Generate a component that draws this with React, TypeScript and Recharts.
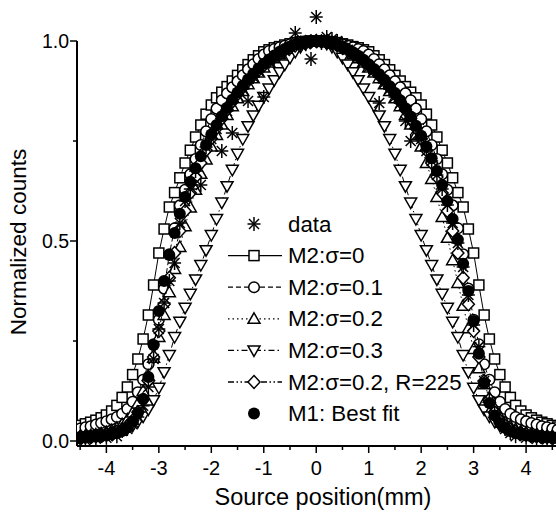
import { ScatterChart, Scatter, XAxis, YAxis, ReferenceLine } from 'recharts'

// source position (mm)
const xs = [
  -4.6, -4.5, -4.4, -4.3, -4.2, -4.1, -4.0, -3.9, -3.8, -3.7,
  -3.6, -3.5, -3.4, -3.3, -3.2, -3.1, -3.0, -2.9, -2.8, -2.7,
  -2.6, -2.5, -2.4, -2.3, -2.2, -2.1, -2.0, -1.9, -1.8, -1.7,
  -1.6, -1.5, -1.4, -1.3, -1.2, -1.1, -1.0, -0.9, -0.8, -0.7,
  -0.6, -0.5, -0.4, -0.3, -0.2, -0.1, 0.0, 0.1, 0.2, 0.3,
  0.4, 0.5, 0.6, 0.7, 0.8, 0.9, 1.0, 1.1, 1.2, 1.3,
  1.4, 1.5, 1.6, 1.7, 1.8, 1.9, 2.0, 2.1, 2.2, 2.3,
  2.4, 2.5, 2.6, 2.7, 2.8, 2.9, 3.0, 3.1, 3.2, 3.3,
  3.4, 3.5, 3.6, 3.7, 3.8, 3.9, 4.0, 4.1, 4.2, 4.3,
  4.4, 4.5, 4.6,
]

const measured = [
  0.004, 0.010, 0.002, 0.012, 0.006, 0.015, 0.008, 0.018, 0.012, 0.025,
  0.030, 0.042, 0.060, 0.088, 0.135, 0.205, 0.280, 0.345, 0.400, 0.445,
  0.545, 0.600, 0.630, 0.675, 0.640, 0.735, 0.755, 0.780, 0.725, 0.825,
  0.770, 0.865, 0.880, 0.850, 0.910, 0.925, 0.860, 0.948, 0.958, 0.968,
  0.975, 0.985, 1.020, 0.990, 0.992, 0.955, 1.060, 0.995, 1.010, 1.005,
  1.000, 0.988, 0.978, 0.968, 0.960, 0.948, 0.935, 0.925, 0.845, 0.895,
  0.880, 0.860, 0.845, 0.800, 0.750, 0.780, 0.755, 0.725, 0.700, 0.665,
  0.630, 0.590, 0.545, 0.495, 0.435, 0.365, 0.290, 0.236, 0.150, 0.100,
  0.070, 0.045, 0.030, 0.020, 0.012, 0.018, 0.008, 0.014, 0.005, 0.011,
  0.004, 0.009, 0.003,
]

const m2s0 = [
  0.035, 0.039, 0.043, 0.047, 0.052, 0.058, 0.065, 0.075, 0.089, 0.109,
  0.135, 0.166, 0.205, 0.255, 0.315, 0.390, 0.470, 0.530, 0.585, 0.621,
  0.658, 0.695, 0.727, 0.760, 0.790, 0.817, 0.840, 0.858, 0.872, 0.886,
  0.900, 0.914, 0.928, 0.941, 0.953, 0.963, 0.973, 0.978, 0.983, 0.986,
  0.990, 0.993, 0.996, 0.998, 0.999, 1.000, 1.000, 1.000, 0.999, 0.998,
  0.996, 0.993, 0.990, 0.986, 0.983, 0.978, 0.973, 0.963, 0.953, 0.941,
  0.928, 0.914, 0.900, 0.886, 0.872, 0.858, 0.840, 0.817, 0.790, 0.760,
  0.727, 0.695, 0.658, 0.621, 0.585, 0.530, 0.470, 0.390, 0.315, 0.255,
  0.205, 0.166, 0.135, 0.109, 0.089, 0.075, 0.065, 0.058, 0.052, 0.047,
  0.043, 0.039, 0.035,
]

const m2s1 = [
  0.028, 0.031, 0.034, 0.037, 0.041, 0.045, 0.049, 0.054, 0.060, 0.068,
  0.080, 0.098, 0.122, 0.153, 0.192, 0.242, 0.303, 0.381, 0.467, 0.532,
  0.589, 0.628, 0.667, 0.705, 0.740, 0.774, 0.805, 0.831, 0.852, 0.869,
  0.884, 0.899, 0.914, 0.929, 0.942, 0.955, 0.966, 0.975, 0.980, 0.984,
  0.988, 0.992, 0.995, 0.998, 0.999, 1.000, 1.000, 1.000, 0.999, 0.998,
  0.995, 0.992, 0.988, 0.984, 0.980, 0.975, 0.966, 0.955, 0.942, 0.929,
  0.914, 0.899, 0.884, 0.869, 0.852, 0.831, 0.805, 0.774, 0.740, 0.705,
  0.667, 0.628, 0.589, 0.532, 0.467, 0.381, 0.303, 0.242, 0.192, 0.153,
  0.122, 0.098, 0.080, 0.068, 0.060, 0.054, 0.049, 0.045, 0.041, 0.037,
  0.034, 0.031, 0.028,
]

const m2s2 = [
  0.011, 0.012, 0.013, 0.014, 0.016, 0.019, 0.022, 0.027, 0.033, 0.042,
  0.054, 0.071, 0.094, 0.125, 0.163, 0.208, 0.260, 0.315, 0.372, 0.430,
  0.485, 0.537, 0.584, 0.628, 0.668, 0.704, 0.736, 0.765, 0.791, 0.815,
  0.837, 0.857, 0.875, 0.892, 0.907, 0.921, 0.934, 0.946, 0.957, 0.967,
  0.975, 0.982, 0.988, 0.993, 0.997, 0.999, 1.000, 0.999, 0.997, 0.993,
  0.988, 0.982, 0.975, 0.967, 0.957, 0.946, 0.934, 0.921, 0.907, 0.892,
  0.875, 0.857, 0.837, 0.815, 0.791, 0.765, 0.736, 0.695, 0.655, 0.610,
  0.560, 0.508, 0.452, 0.395, 0.338, 0.282, 0.230, 0.182, 0.142, 0.108,
  0.082, 0.062, 0.047, 0.037, 0.030, 0.025, 0.021, 0.018, 0.016, 0.014,
  0.013, 0.012, 0.011,
]

const m2s3 = [
  0.009, 0.010, 0.011, 0.012, 0.013, 0.014, 0.016, 0.019, 0.022, 0.026,
  0.031, 0.038, 0.048, 0.061, 0.079, 0.102, 0.133, 0.172, 0.215, 0.260,
  0.298, 0.333, 0.368, 0.404, 0.440, 0.477, 0.515, 0.555, 0.596, 0.637,
  0.678, 0.718, 0.755, 0.787, 0.814, 0.838, 0.860, 0.881, 0.902, 0.922,
  0.941, 0.958, 0.973, 0.985, 0.993, 0.998, 1.000, 0.998, 0.993, 0.985,
  0.973, 0.958, 0.941, 0.922, 0.902, 0.881, 0.860, 0.838, 0.814, 0.787,
  0.755, 0.718, 0.678, 0.637, 0.596, 0.555, 0.515, 0.477, 0.440, 0.404,
  0.368, 0.333, 0.298, 0.260, 0.215, 0.172, 0.133, 0.102, 0.079, 0.061,
  0.048, 0.038, 0.031, 0.026, 0.022, 0.019, 0.016, 0.014, 0.013, 0.012,
  0.011, 0.010, 0.009,
]

const m2s2r225 = [
  0.008, 0.009, 0.010, 0.011, 0.012, 0.014, 0.016, 0.019, 0.023, 0.029,
  0.038, 0.051, 0.072, 0.104, 0.150, 0.210, 0.275, 0.342, 0.408, 0.470,
  0.525, 0.575, 0.620, 0.660, 0.695, 0.727, 0.756, 0.782, 0.806, 0.828,
  0.848, 0.867, 0.884, 0.900, 0.914, 0.927, 0.939, 0.950, 0.960, 0.969,
  0.977, 0.983, 0.989, 0.994, 0.997, 0.999, 1.000, 0.999, 0.997, 0.994,
  0.989, 0.983, 0.977, 0.969, 0.960, 0.950, 0.939, 0.927, 0.914, 0.900,
  0.884, 0.867, 0.848, 0.828, 0.806, 0.782, 0.756, 0.727, 0.695, 0.660,
  0.620, 0.575, 0.525, 0.470, 0.408, 0.342, 0.275, 0.210, 0.150, 0.104,
  0.072, 0.051, 0.038, 0.029, 0.023, 0.019, 0.016, 0.014, 0.012, 0.011,
  0.010, 0.009, 0.008,
]

const m1 = [
  0.007, 0.008, 0.009, 0.010, 0.011, 0.012, 0.014, 0.017, 0.020, 0.025,
  0.034, 0.048, 0.070, 0.105, 0.160, 0.240, 0.325, 0.400, 0.465, 0.520,
  0.568, 0.610, 0.648, 0.682, 0.712, 0.740, 0.766, 0.790, 0.812, 0.833,
  0.853, 0.871, 0.888, 0.904, 0.918, 0.931, 0.943, 0.954, 0.964, 0.973,
  0.980, 0.986, 0.991, 0.995, 0.998, 0.999, 1.000, 0.999, 0.997, 0.994,
  0.990, 0.985, 0.979, 0.972, 0.963, 0.953, 0.942, 0.930, 0.917, 0.903,
  0.887, 0.870, 0.852, 0.832, 0.811, 0.788, 0.763, 0.736, 0.707, 0.675,
  0.640, 0.600, 0.555, 0.503, 0.443, 0.375, 0.300, 0.218, 0.145, 0.095,
  0.064, 0.045, 0.033, 0.025, 0.020, 0.017, 0.014, 0.012, 0.011, 0.010,
  0.009, 0.008, 0.007,
]

const xTicks = [-4.5, -4, -3.5, -3, -2.5, -2, -1.5, -1, -0.5, 0, 0.5, 1, 1.5, 2, 2.5, 3, 3.5, 4, 4.5]
const yTicks = [0, 0.25, 0.5, 0.75, 1]
const legendLabels = ['data', 'M2:σ=0', 'M2:σ=0.1', 'M2:σ=0.2', 'M2:σ=0.3', 'M2:σ=0.2, R=225', 'M1: Best fit']

const FONT = "'Liberation Sans', Arial, Helvetica, sans-serif"
const X_MIN = -4.56
const X_MAX = 4.57
const Y_MIN = -0.0125
const Y_MAX = 1.095
const SW = 1.5

const pts = (ys: number[]) => xs.map((x, i) => ({ x, y: ys[i] }))

const Sq = ({ cx, cy }: any) => (
  <rect x={cx - 5} y={cy - 5} width={10} height={10} fill="#fff" stroke="#000" strokeWidth={SW} />
)
const Ring = ({ cx, cy }: any) => (
  <circle cx={cx} cy={cy} r={5.3} fill="#fff" stroke="#000" strokeWidth={SW} />
)
const TriUp = ({ cx, cy }: any) => (
  <polygon points={`${cx},${cy - 6} ${cx + 6},${cy + 4.5} ${cx - 6},${cy + 4.5}`} fill="#fff" stroke="#000" strokeWidth={SW} />
)
const TriDown = ({ cx, cy }: any) => (
  <polygon points={`${cx},${cy + 6} ${cx + 6},${cy - 4.5} ${cx - 6},${cy - 4.5}`} fill="#fff" stroke="#000" strokeWidth={SW} />
)
const Diamond = ({ cx, cy }: any) => (
  <polygon points={`${cx},${cy - 6.5} ${cx + 6},${cy} ${cx},${cy + 6.5} ${cx - 6},${cy}`} fill="#fff" stroke="#000" strokeWidth={SW} />
)
const Dot = ({ cx, cy }: any) => <circle cx={cx} cy={cy} r={6} fill="#000" />
const Star = ({ cx, cy }: any) => (
  <g stroke="#000" strokeWidth={1.5}>
    <line x1={cx} y1={cy - 7} x2={cx} y2={cy + 7} />
    <line x1={cx - 6.5} y1={cy} x2={cx + 6.5} y2={cy} />
    <line x1={cx - 5} y1={cy - 5} x2={cx + 5} y2={cy + 5} />
    <line x1={cx - 5} y1={cy + 5} x2={cx + 5} y2={cy - 5} />
  </g>
)

const XTick = ({ x, y, payload }: any) => {
  const major = Number.isInteger(payload.value)
  return (
    <g>
      <line x1={x} x2={x} y1={y} y2={y + (major ? 7 : 4)} stroke="#000" strokeWidth={1.5} />
      {major && (
        <text x={x} y={y + 22} textAnchor="middle" dominantBaseline="central" fontSize={20} fontFamily={FONT} fill="#000">
          {payload.value}
        </text>
      )}
    </g>
  )
}

const YTick = ({ x, y, payload }: any) => {
  const major = Number.isInteger(payload.value * 2)
  return (
    <g>
      <line x1={x - (major ? 7 : 4)} x2={x} y1={y} y2={y} stroke="#000" strokeWidth={1.5} />
      {major && (
        <text x={x - 8} y={y} textAnchor="end" dominantBaseline="central" fontSize={19.5} fontFamily={FONT} fill="#000">
          {payload.value.toFixed(1)}
        </text>
      )}
    </g>
  )
}

const legendItems = [
  { shape: Star, dash: null },
  { shape: Sq, dash: '' },
  { shape: Ring, dash: '5 3' },
  { shape: TriUp, dash: '1.5 3' },
  { shape: TriDown, dash: '6 3 1.5 3' },
  { shape: Diamond, dash: '6 2.5 1.5 2.5 1.5 2.5' },
  { shape: Dot, dash: null },
]

export default function App() {
  const lineStyle = (dash: string) => ({ stroke: '#000', strokeWidth: 1, strokeDasharray: dash })
  return (
    <div style={{ position: 'absolute', left: 0, top: 0, width: 556, height: 517, background: '#fff', overflow: 'hidden' }}>
      <ScatterChart width={556} height={517} margin={{ top: 3, right: 0, bottom: 0, left: 0 }}>
        <XAxis
          type="number" dataKey="x" domain={[X_MIN, X_MAX]} allowDataOverflow
          ticks={xTicks} interval={0} tick={<XTick />} tickSize={0} tickMargin={0} tickLine={false}
          axisLine={{ stroke: '#000', strokeWidth: 2 }} height={71}
        />
        <YAxis
          type="number" dataKey="y" domain={[Y_MIN, Y_MAX]} allowDataOverflow
          ticks={yTicks} interval={0} tick={<YTick />} tickSize={0} tickMargin={0} tickLine={false}
          axisLine={false} width={77}
        />
        <ReferenceLine segment={[{ x: X_MIN, y: Y_MIN }, { x: X_MIN, y: 1 }]} stroke="#000" strokeWidth={2} />
        <Scatter data={pts(m2s0)} shape={Sq} line={lineStyle('')} lineType="joint" isAnimationActive={false} />
        <Scatter data={pts(m2s1)} shape={Ring} line={lineStyle('5 3')} lineType="joint" isAnimationActive={false} />
        <Scatter data={pts(m2s2)} shape={TriUp} line={lineStyle('1.5 3')} lineType="joint" isAnimationActive={false} />
        <Scatter data={pts(m2s3)} shape={TriDown} line={lineStyle('6 3 1.5 3')} lineType="joint" isAnimationActive={false} />
        <Scatter data={pts(m2s2r225)} shape={Diamond} line={lineStyle('6 2.5 1.5 2.5 1.5 2.5')} lineType="joint" isAnimationActive={false} />
        <Scatter data={pts(m1)} shape={Dot} isAnimationActive={false} />
        <Scatter data={pts(measured)} shape={Star} isAnimationActive={false} />
      </ScatterChart>
      <svg width={556} height={517} style={{ position: 'absolute', left: 0, top: 0, pointerEvents: 'none' }}>
        <text x={323} y={497} textAnchor="middle" dominantBaseline="central" fontSize={23.5} fontFamily={FONT} fill="#000">
          Source position(mm)
        </text>
        <text
          x={18} y={242} transform="rotate(-90 18 242)" textAnchor="middle" dominantBaseline="central"
          fontSize={22.5} fontFamily={FONT} fill="#000"
        >
          Normalized counts
        </text>
        {legendItems.map((item, i) => {
          const cy = 224 + i * 31.6
          const Shape = item.shape
          return (
            <g key={legendLabels[i]}>
              {item.dash !== null && (
                <line x1={228} x2={282} y1={cy} y2={cy} stroke="#000" strokeWidth={1.3} strokeDasharray={item.dash} />
              )}
              <Shape cx={254} cy={cy} />
              <text x={288} y={cy} dominantBaseline="central" fontSize={22.3} fontFamily={FONT} fill="#000">
                {legendLabels[i]}
              </text>
            </g>
          )
        })}
      </svg>
    </div>
  )
}
